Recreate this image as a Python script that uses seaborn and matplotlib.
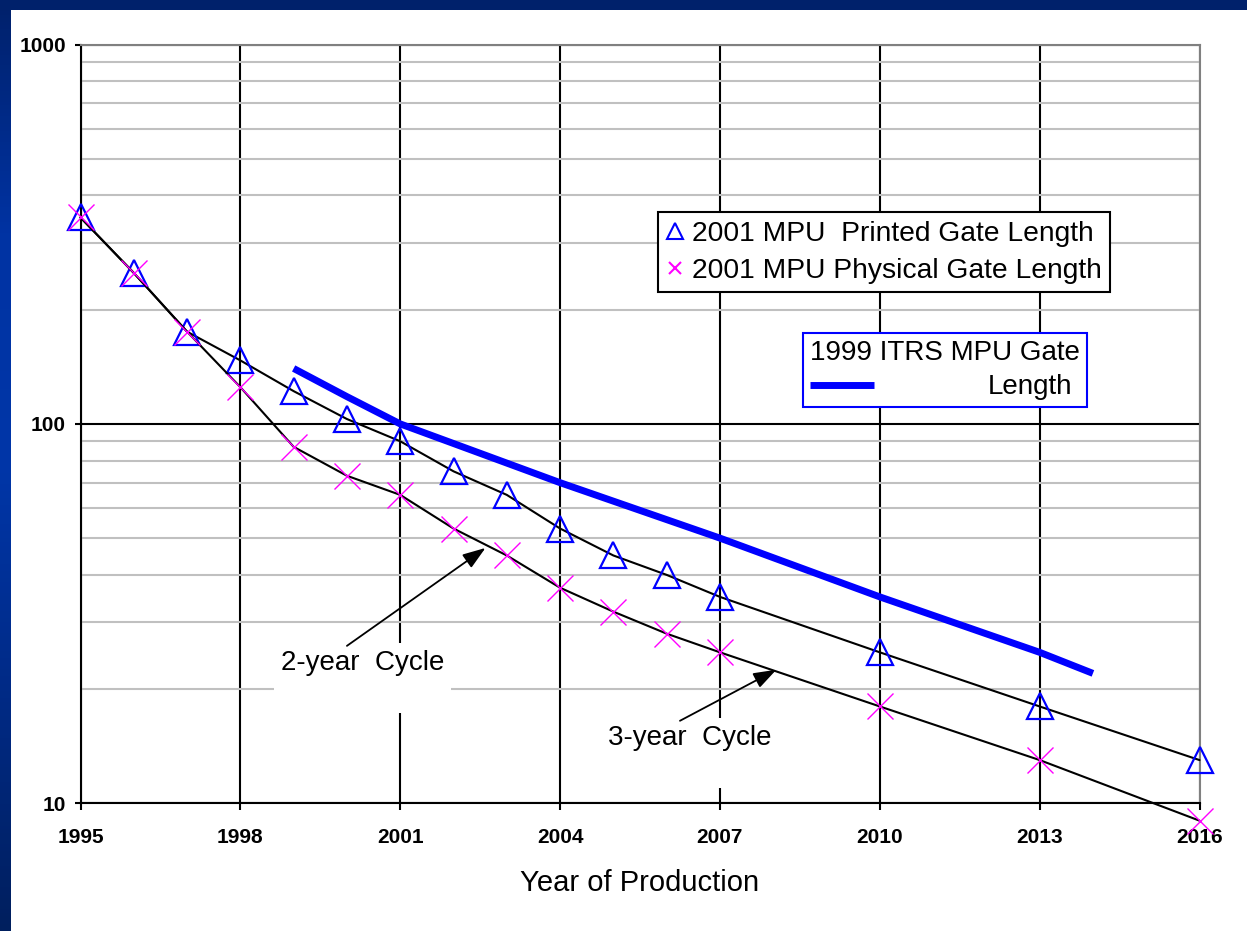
import numpy as np
import matplotlib
matplotlib.use("Agg")
import matplotlib.pyplot as plt
import seaborn as sns
from matplotlib.lines import Line2D
from matplotlib.patches import Rectangle
from matplotlib.colors import LinearSegmentedColormap
from matplotlib.ticker import FixedLocator, LogLocator, NullFormatter

# ---- data (gate length in nm) ----
years = [1995, 1996, 1997, 1998, 1999, 2000, 2001, 2002, 2003, 2004,
         2005, 2006, 2007, 2010, 2013, 2016]
printed_gate = [350, 250, 175, 147, 122, 103, 90, 75, 65, 53,
                45, 40, 35, 25, 18, 13]
physical_gate = [350, 250, 175, 125, 87, 73, 65, 53, 45, 37,
                 32, 28, 25, 18, 13, 9]
itrs99_years = [1999, 2000, 2001, 2004, 2007, 2010, 2013, 2014]
itrs99_gate = [140, 118, 100, 70, 50, 35, 25, 22]

x_ticks = [1995, 1998, 2001, 2004, 2007, 2010, 2013, 2016]
y_ticks = [10, 100, 1000]
y_tick_labels = ["10", "100", "1000"]

series_labels = ["2001 MPU  Printed Gate Length", "2001 MPU Physical Gate Length"]
itrs_title = "1999 ITRS MPU Gate"
itrs_label = "Length"
x_title = "Year of Production"

BLUE = "#0000FF"
MAGENTA = "#FF00FF"
MINOR_GRID = "#C0C0C0"
BORDER_GRAY = "#808080"

sns.set_theme(style="white")
plt.rcParams["font.family"] = ["Liberation Sans", "DejaVu Sans"]
plt.rcParams.update({"text.color": "black", "axes.labelcolor": "black",
                     "xtick.color": "black", "ytick.color": "black",
                     "legend.title_fontsize": 20})

W, H = 1247, 931
fig = plt.figure(figsize=(W / 100, H / 100), dpi=100, facecolor="white")

# slide frame: dark top bar and shaded left strip
fig.patches.append(Rectangle((0, 1 - 9.5 / H), 1, 9.5 / H, transform=fig.transFigure,
                             facecolor="#00216B", edgecolor="none", zorder=0))
strip = fig.add_axes([0, 0, 11 / W, 1])
strip_cmap = LinearSegmentedColormap.from_list(
    "strip", ["#00216B", "#0033A3", "#0036A8", "#002A85", "#001F5E"])
strip.imshow(np.linspace(0, 1, 256)[:, None], aspect="auto", cmap=strip_cmap,
             extent=[0, 1, 0, 1], origin="upper")
strip.axis("off")

# plotting area
left, right, top, bottom = 80.5, 1199.5, 44.5, 803.3
ax = fig.add_axes([left / W, 1 - bottom / H, (right - left) / W, (bottom - top) / H])
ax.set_facecolor("white")
ax.set_yscale("log")

sns.lineplot(x=years, y=printed_gate, ax=ax, color="black", lw=1.5,
             marker="^", markersize=19, markerfacecolor="none",
             markeredgecolor=BLUE, markeredgewidth=1.6, clip_on=False, zorder=4)
sns.lineplot(x=years, y=physical_gate, ax=ax, color="black", lw=1.5,
             marker="x", markersize=19, markeredgecolor=MAGENTA,
             markeredgewidth=1.0, clip_on=False, zorder=4)
sns.lineplot(x=itrs99_years, y=itrs99_gate, ax=ax, color=BLUE, lw=5,
             solid_capstyle="butt", zorder=4.5)

ax.set_xlim(1995, 2016)
ax.set_ylim(10, 1000)
ax.set_xticks(x_ticks)
ax.set_xticklabels([str(y) for y in x_ticks])
ax.yaxis.set_major_locator(FixedLocator(y_ticks))
ax.set_yticklabels(y_tick_labels)
ax.yaxis.set_minor_locator(LogLocator(base=10, subs=range(2, 10)))
ax.yaxis.set_minor_formatter(NullFormatter())

ax.set_axisbelow(True)
ax.grid(True, which="major", axis="both", color="black", lw=1.5)
ax.grid(True, which="minor", axis="y", color=MINOR_GRID, lw=1.5)

ax.tick_params(axis="both", which="major", bottom=True, left=True,
               direction="out", color="black", width=1.5, labelcolor="black")
ax.tick_params(axis="x", which="major", length=5, pad=13, labelsize=15)
ax.tick_params(axis="y", which="major", length=4.5, pad=6, labelsize=15)
ax.tick_params(axis="y", which="minor", length=0)
for lbl in ax.get_xticklabels() + ax.get_yticklabels():
    lbl.set_fontweight("bold")

for side in ("left", "bottom"):
    ax.spines[side].set_color("black")
    ax.spines[side].set_linewidth(1.5)
for side in ("top", "right"):
    ax.spines[side].set_color(BORDER_GRAY)
    ax.spines[side].set_linewidth(1.5)

ax.set_xlabel(x_title, fontsize=21, color="black")
ax.xaxis.set_label_coords(0.5, -0.087)
ax.set_ylabel("")

# legend for the 2001 series
h_printed = Line2D([], [], ls="none", marker="^", ms=12, mfc="none", mec=BLUE, mew=1.5)
h_physical = Line2D([], [], ls="none", marker="x", ms=9, mec=MAGENTA, mew=1.5)
leg1 = ax.legend([h_printed, h_physical], series_labels, loc="upper left",
                 bbox_to_anchor=(0.516, 0.779), borderaxespad=0, fontsize=20.3,
                 frameon=True, fancybox=False, edgecolor="black", framealpha=1,
                 borderpad=0.3, handlelength=0.6, handletextpad=0.3,
                 labelspacing=0.4, labelcolor="black")
leg1.get_frame().set_linewidth(1.5)
ax.add_artist(leg1)

# legend for the 1999 roadmap line
h_itrs = Line2D([], [], color=BLUE, lw=5, solid_capstyle="butt")
leg2 = ax.legend([h_itrs], [itrs_label], title=itrs_title, title_fontsize=20,
                 fontsize=20, loc="upper left", bbox_to_anchor=(0.6455, 0.6198),
                 borderaxespad=0, alignment="left", frameon=True, fancybox=False,
                 edgecolor=BLUE, framealpha=1, borderpad=0.25, handlelength=2.3,
                 handletextpad=4.1, labelspacing=0.3, labelcolor="black")
leg2.get_title().set_color("black")
leg2.get_frame().set_linewidth(1.5)

# cycle annotations
box = dict(boxstyle="square,pad=0.25", facecolor="white", edgecolor="none")
ax.text(2000.29, 25.4, "2-year  Cycle\n", fontsize=20, ha="center", va="top",
        color="black", bbox=box, zorder=3)
ax.text(2006.43, 16.1, "3-year  Cycle\n", fontsize=20, ha="center", va="top",
        color="black", bbox=box, zorder=3)

arrow = dict(arrowstyle="-|>,head_length=1.0,head_width=0.35", mutation_scale=14,
             color="black", lw=1.3, shrinkA=0, shrinkB=0)
ax.annotate("", xy=(2002.6, 47.1), xytext=(2000.0, 26.0), arrowprops=arrow, zorder=6)
ax.annotate("", xy=(2008.06, 22.5), xytext=(2006.25, 16.5), arrowprops=arrow, zorder=6)

fig.savefig("out.png", dpi=100, facecolor="white")
